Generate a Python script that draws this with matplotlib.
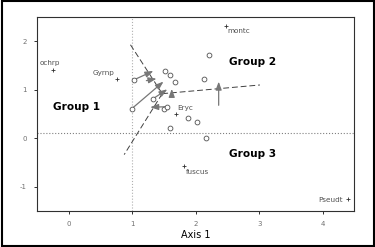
import matplotlib.pyplot as plt
from matplotlib.patches import Rectangle

plt.rcParams['axes.unicode_minus'] = False

# sites (open circles)
site_x = [1.03, 1.00, 1.52, 1.60, 1.67, 2.21, 2.13, 1.33, 1.49, 1.54, 1.88, 2.02, 1.60, 2.16]
site_y = [1.21, 0.61, 1.38, 1.30, 1.17, 1.72, 1.23, 0.82, 0.61, 0.65, 0.42, 0.33, 0.22, 0.00]

# species (+) and their labels
species = ['ochrp', 'Gyrnp', 'montc', 'Eryc', 'fuscus', 'Pseudt']
sp_x = [-0.25, 0.75, 2.48, 1.68, 1.82, 4.40]
sp_y = [1.40, 1.22, 2.32, 0.51, -0.58, -1.25]
lab_x = [-0.46, 0.72, 2.50, 1.71, 1.84, 4.32]
lab_y = [1.55, 1.34, 2.22, 0.62, -0.70, -1.28]
lab_ha = ['left', 'right', 'left', 'left', 'left', 'right']

# arrows: start -> end
arr_x0 = [1.03, 1.22, 0.99, 1.33, 1.62, 2.36, 1.54]
arr_y0 = [1.21, 1.19, 0.61, 0.82, 0.86, 0.68, 0.65]
arr_x1 = [1.33, 1.38, 1.49, 1.55, 1.62, 2.36, 1.28]
arr_y1 = [1.39, 1.23, 1.17, 1.01, 1.02, 1.17, 0.64]

# group boundaries (dashed), meeting at one node
node = (1.47, 0.92)
bound_x = [0.95, 3.01, 0.87]
bound_y = [1.97, 1.10, -0.34]

groups = ['Group 1', 'Group 2', 'Group 3']
grp_x = [0.12, 2.89, 2.89]
grp_y = [0.64, 1.58, -0.32]

fig = plt.figure(figsize=(3.75, 2.47), dpi=100)
ax = fig.add_axes([0.0995, 0.147, 0.8455, 0.783])

ax.axvline(1, color='#b0b0b0', lw=0.8, ls=':', zorder=1)
ax.axhline(0.1, color='#808080', lw=0.8, ls=':', zorder=1)

for bx, by in zip(bound_x, bound_y):
    ax.plot([node[0], bx], [node[1], by], color='#404040', lw=0.7,
            ls=(0, (6, 3)), zorder=2)

for x0, y0, x1, y1 in zip(arr_x0, arr_y0, arr_x1, arr_y1):
    ax.annotate('', xy=(x1, y1), xytext=(x0, y0),
                arrowprops=dict(arrowstyle='-|>,head_length=0.6,head_width=0.22',
                                color='#777777', lw=0.9,
                                mutation_scale=8, shrinkA=0, shrinkB=0),
                zorder=3)

ax.scatter(site_x, site_y, s=12, facecolors='white', edgecolors='#505050',
           linewidths=0.6, zorder=4)
ax.scatter(sp_x, sp_y, marker='+', s=12, color='#303030', linewidths=0.6,
           zorder=4)
for name, x, y, ha in zip(species, lab_x, lab_y, lab_ha):
    ax.text(x, y, name, fontsize=5.2, color='#505050', ha=ha, va='center')

for g, x, y in zip(groups, grp_x, grp_y):
    ax.text(x, y, g, fontsize=7.6, fontweight='bold', ha='center',
            va='center', color='black')

ax.set_xlim(-0.5, 4.5)
ax.set_ylim(-1.5, 2.5)
ax.set_xticks([0, 1, 2, 3, 4])
ax.set_yticks([-1, 0, 1, 2])
ax.tick_params(labelsize=5, colors='#303030', labelcolor='#707070',
               length=2.5, width=0.7, pad=5)
for s in ax.spines.values():
    s.set_color('#303030')
    s.set_linewidth(0.8)
ax.set_xlabel('Axis 1', fontsize=7, labelpad=2)

fig.patches.append(Rectangle((0.004, 0.006), 0.992, 0.988, transform=fig.transFigure,
                             fill=False, edgecolor='black', lw=1.5))

fig.savefig('out.png', dpi=100)
